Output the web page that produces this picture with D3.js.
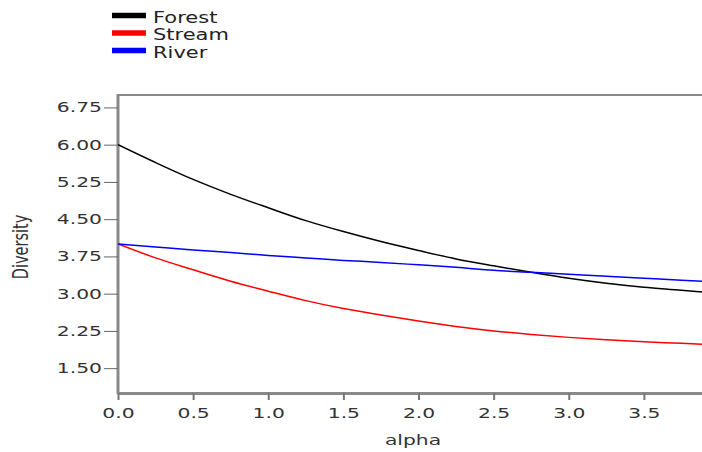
<!DOCTYPE html>
<html>
<head>
<meta charset="utf-8">
<script src="https://cdn.jsdelivr.net/npm/d3@7"></script>
<style>
  body { margin: 0; background: #fff; }
  text { font-family: "DejaVu Sans", Verdana, sans-serif; }
</style>
</head>
<body>
<svg id="chart" width="702" height="452"></svg>
<script>
// alpha values (x) and diversity profiles
var alphas = [0, 0.25, 0.5, 0.75, 1, 1.25, 1.5, 1.75, 2, 2.25, 2.5, 2.75, 3, 3.25, 3.5, 3.75, 3.9];
var forest = [6.00, 5.64, 5.30, 5.00, 4.73, 4.47, 4.25, 4.05, 3.87, 3.70, 3.56, 3.43, 3.31, 3.21, 3.13, 3.07, 3.03];
var stream = [4.00, 3.72, 3.48, 3.25, 3.05, 2.86, 2.70, 2.57, 2.45, 2.34, 2.25, 2.18, 2.12, 2.07, 2.03, 2.00, 1.98];
var river  = [4.00, 3.94, 3.88, 3.83, 3.77, 3.72, 3.67, 3.63, 3.58, 3.53, 3.47, 3.43, 3.39, 3.35, 3.31, 3.27, 3.25];
var seriesNames = ["Forest", "Stream", "River"];
var seriesColors = ["#000000", "#ff0000", "#0000ff"];
var yTicks = [1.5, 2.25, 3.0, 3.75, 4.5, 5.25, 6.0, 6.75];
var xTicks = [0, 0.5, 1.0, 1.5, 2.0, 2.5, 3.0, 3.5];

var svg = d3.select("#chart");
var plotLeft = 118, plotTop = 95, plotRight = 704, plotBottom = 393;
var stretch = 1.45; // text in the reference is drawn wide

var x = d3.scaleLinear().domain([0, 3.9]).range([plotLeft, plotRight]);
var y = d3.scaleLinear().domain([1, 7]).range([plotBottom, plotTop]);

svg.append("defs").append("clipPath").attr("id", "plotclip")
  .append("rect").attr("x", plotLeft).attr("y", plotTop)
  .attr("width", plotRight - plotLeft).attr("height", plotBottom - plotTop);

// top frame line
svg.append("line")
  .attr("x1", plotLeft).attr("x2", plotRight).attr("y1", plotTop).attr("y2", plotTop)
  .attr("stroke", "#8a8a8a").attr("stroke-width", 2);

// y axis
var yAxis = svg.append("g").attr("transform", "translate(" + plotLeft + ",0)")
  .call(d3.axisLeft(y).tickValues(yTicks).tickFormat(d3.format(".2f")).tickSize(14).tickSizeOuter(0));
yAxis.select(".domain").attr("stroke", "#8a8a8a").attr("stroke-width", 3)
  .attr("d", "M0," + (plotTop - 1) + "V" + (plotBottom + 1));
yAxis.selectAll(".tick line").attr("stroke", "#666");
yAxis.selectAll(".tick text")
  .attr("x", 0)
  .attr("transform", "translate(-16,0) scale(" + stretch + ",1)")
  .attr("fill", "#333").style("font-size", "14px");

// x axis
var xAxis = svg.append("g").attr("transform", "translate(0," + plotBottom + ")")
  .call(d3.axisBottom(x).tickValues(xTicks).tickFormat(d3.format(".1f")).tickSize(7).tickSizeOuter(0).tickPadding(8));
xAxis.select(".domain").attr("stroke", "#8a8a8a").attr("stroke-width", 3);
xAxis.selectAll(".tick line").attr("stroke", "#777").attr("stroke-width", 2);
xAxis.selectAll(".tick text")
  .attr("transform", "scale(" + stretch + ",1)")
  .attr("fill", "#333").style("font-size", "14px");

// axis titles
svg.append("text")
  .attr("transform", "translate(413,445) scale(" + stretch + ",1)")
  .attr("text-anchor", "middle")
  .attr("fill", "#333")
  .style("font-size", "14px")
  .text("alpha");

svg.append("text")
  .attr("transform", "translate(28,247) scale(" + stretch + ",1) rotate(-90)")
  .attr("text-anchor", "middle")
  .attr("fill", "#333")
  .style("font-size", "14.5px")
  .text("Diversity");

// lines
var allSeries = [forest, stream, river];
var line = d3.line()
  .x(function (d, i) { return x(alphas[i]); })
  .y(function (d) { return y(d); })
  .curve(d3.curveMonotoneX);

svg.append("g").attr("clip-path", "url(#plotclip)")
  .selectAll("path")
  .data(allSeries)
  .enter()
  .append("path")
  .attr("d", line)
  .attr("fill", "none")
  .attr("stroke", function (d, i) { return seriesColors[i]; })
  .attr("stroke-width", 1.5);

// legend
var legend = svg.append("g").attr("transform", "translate(112,15.5)");
seriesNames.forEach(function (name, i) {
  var g = legend.append("g").attr("transform", "translate(0," + (i * 17.5) + ")");
  g.append("line")
    .attr("x1", 0).attr("x2", 34).attr("y1", 0).attr("y2", 0)
    .attr("stroke", seriesColors[i]).attr("stroke-width", 5.5);
  g.append("text")
    .attr("transform", "translate(41,7) scale(1.4,1)")
    .attr("fill", "#222")
    .style("font-size", "15px")
    .text(name);
});
</script>
</body>
</html>
